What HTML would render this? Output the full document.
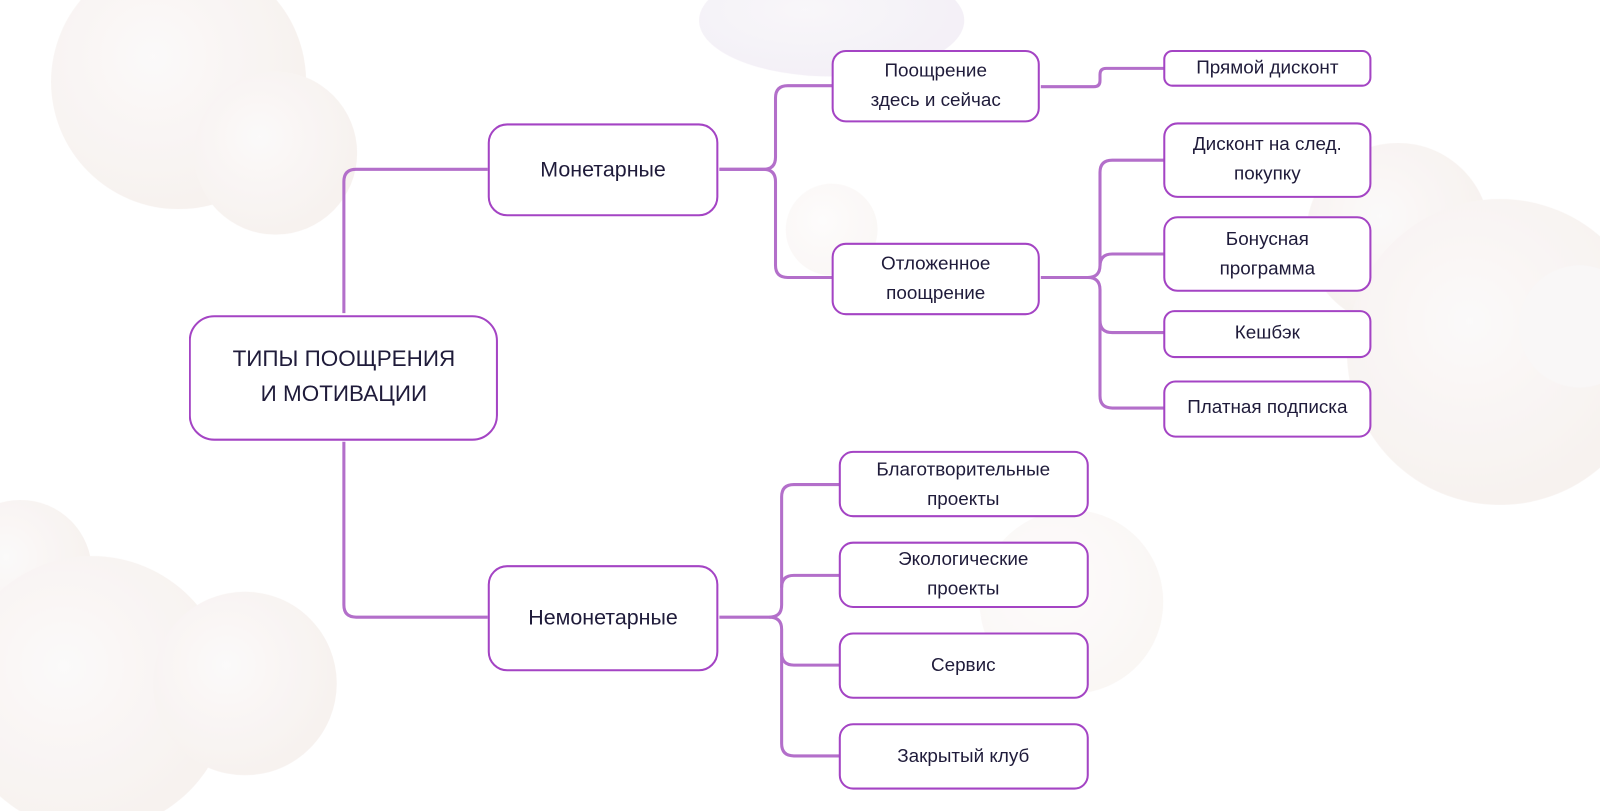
<!DOCTYPE html>
<html><head><meta charset="utf-8"><style>
html,body{margin:0;padding:0;background:#fff;width:1600px;height:811px;overflow:hidden}
svg text{font-family:"Liberation Sans","DejaVu Sans",sans-serif;fill:#1f1b3a;text-anchor:middle}
</style></head><body>
<svg width="1600" height="811" viewBox="0 0 1568 795" preserveAspectRatio="none" xmlns="http://www.w3.org/2000/svg">
<defs>
<radialGradient id="g1" cx="40%" cy="40%" r="60%"><stop offset="0" stop-color="#fbf9f9"/><stop offset="1" stop-color="#f6f0ed"/></radialGradient>
<radialGradient id="g2" cx="40%" cy="40%" r="60%"><stop offset="0" stop-color="#f8f6f9"/><stop offset="1" stop-color="#f2eef6"/></radialGradient>
</defs>
<rect width="1568" height="795" fill="#fff"/>
<g opacity="0.85">
<circle cx="175" cy="80" r="125" fill="url(#g1)"/>
<circle cx="270" cy="150" r="80" fill="url(#g1)"/>
<ellipse cx="815" cy="20" rx="130" ry="55" fill="url(#g2)"/>
<circle cx="815" cy="225" r="45" fill="url(#g1)" opacity="0.6"/>
<circle cx="1370" cy="230" r="90" fill="url(#g1)"/>
<circle cx="1470" cy="345" r="150" fill="url(#g1)"/>
<circle cx="1548" cy="320" r="60" fill="#f8f6f6"/>
<circle cx="1050" cy="590" r="90" fill="url(#g1)" opacity="0.7"/>
<circle cx="20" cy="560" r="70" fill="url(#g1)"/>
<circle cx="90" cy="680" r="135" fill="url(#g1)"/>
<circle cx="240" cy="670" r="90" fill="url(#g1)"/>
</g>
<g fill="none" stroke="#b36fca" stroke-width="3">
<path d="M337 307 V178 Q337 166 349 166 H478"/>
<path d="M337 433 V593 Q337 605 349 605 H478"/>
<path d="M705 166 H748 Q760 166 760 154 V96 Q760 84 772 84 H816"/>
<path d="M705 166 H748 Q760 166 760 178 V260 Q760 272 772 272 H816"/>
<path d="M1020 85 H1072 Q1078 85 1078 79 V73 Q1078 67 1084 67 H1141"/>
<path d="M1020 272 H1066 Q1078 272 1078 260 V169 Q1078 157 1090 157 H1141"/>
<path d="M1078 261 Q1078 249 1090 249 H1141"/>
<path d="M1066 272 Q1078 272 1078 284 V388 Q1078 400 1090 400 H1141"/>
<path d="M1078 314 Q1078 326 1090 326 H1141"/>
<path d="M705 605 H754 Q766 605 766 593 V487 Q766 475 778 475 H823"/>
<path d="M766 576 Q766 564 778 564 H823"/>
<path d="M754 605 Q766 605 766 617 V729 Q766 741 778 741 H823"/>
<path d="M766 640 Q766 652 778 652 H823"/>
</g>
<g fill="#fff" stroke="#a444c4" stroke-width="2">
<rect x="186" y="310" width="301" height="121" rx="24"/>
<rect x="479" y="122" width="224" height="89" rx="18"/>
<rect x="479" y="555" width="224" height="102" rx="18"/>
<rect x="816" y="50" width="202" height="69" rx="13"/>
<rect x="816" y="239" width="202" height="69" rx="13"/>
<rect x="1141" y="50" width="202" height="34" rx="8"/>
<rect x="1141" y="121" width="202" height="72" rx="13"/>
<rect x="1141" y="213" width="202" height="72" rx="13"/>
<rect x="1141" y="305" width="202" height="45" rx="10"/>
<rect x="1141" y="374" width="202" height="54" rx="11"/>
<rect x="823" y="443" width="243" height="63" rx="13"/>
<rect x="823" y="532" width="243" height="63" rx="13"/>
<rect x="823" y="621" width="243" height="63" rx="13"/>
<rect x="823" y="710" width="243" height="63" rx="13"/>
</g>
<g font-size="22">
<text x="337" y="359">ТИПЫ ПООЩРЕНИЯ</text>
<text x="337" y="393">И МОТИВАЦИИ</text>
</g>
<g font-size="21">
<text x="591" y="173">Монетарные</text>
<text x="591" y="612">Немонетарные</text>
</g>
<g font-size="18.5">
<text x="917" y="75">Поощрение</text>
<text x="917" y="104">здесь и сейчас</text>
<text x="917" y="264">Отложенное</text>
<text x="917" y="293">поощрение</text>
<text x="1242" y="72">Прямой дисконт</text>
<text x="1242" y="147">Дисконт на след.</text>
<text x="1242" y="176">покупку</text>
<text x="1242" y="240">Бонусная</text>
<text x="1242" y="269">программа</text>
<text x="1242" y="332">Кешбэк</text>
<text x="1242" y="405">Платная подписка</text>
<text x="944" y="466">Благотворительные</text>
<text x="944" y="495">проекты</text>
<text x="944" y="554">Экологические</text>
<text x="944" y="583">проекты</text>
<text x="944" y="658">Сервис</text>
<text x="944" y="747">Закрытый клуб</text>
</g>
</svg>
</body></html>
